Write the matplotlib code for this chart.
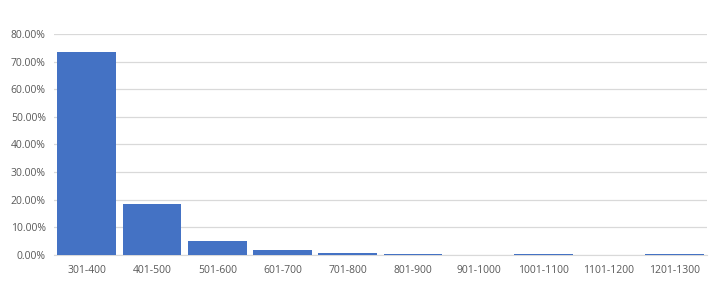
import matplotlib
matplotlib.use('Agg')
import matplotlib.pyplot as plt
from matplotlib.ticker import PercentFormatter, MultipleLocator

categories = ['301-400', '401-500', '501-600', '601-700', '701-800', '801-900',
              '901-1000', '1001-1100', '1101-1200', '1201-1300']
shares = [73.5, 18.5, 5.1, 1.8, 0.8, 0.3, 0.0, 0.3, 0.0, 0.3]

plt.rcParams['font.family'] = ['Open Sans', 'DejaVu Sans']

fig = plt.figure(figsize=(7.22, 3.01), dpi=100)
ax = fig.add_axes([0.075, 0.153, 0.904, 0.734])

x = range(len(categories))
ax.bar(x, shares, width=0.9, color='#4472C4', zorder=3)

ax.set_xlim(-0.5, len(categories) - 0.5)
ax.set_ylim(0, 80)
ax.yaxis.set_major_locator(MultipleLocator(10))
ax.yaxis.set_major_formatter(PercentFormatter(decimals=2))
ax.set_xticks(list(x))
ax.set_xticklabels(categories)

ax.grid(axis='y', color='#d9d9d9', linewidth=0.9, zorder=0)
for side in ['top', 'right', 'left']:
    ax.spines[side].set_visible(False)
ax.spines['bottom'].set_color('#d9d9d9')
ax.tick_params(axis='both', length=0, labelsize=7.5, colors='#595959')
ax.tick_params(axis='x', pad=7)
ax.tick_params(axis='y', pad=6)

fig.savefig('out.png', dpi=100)
